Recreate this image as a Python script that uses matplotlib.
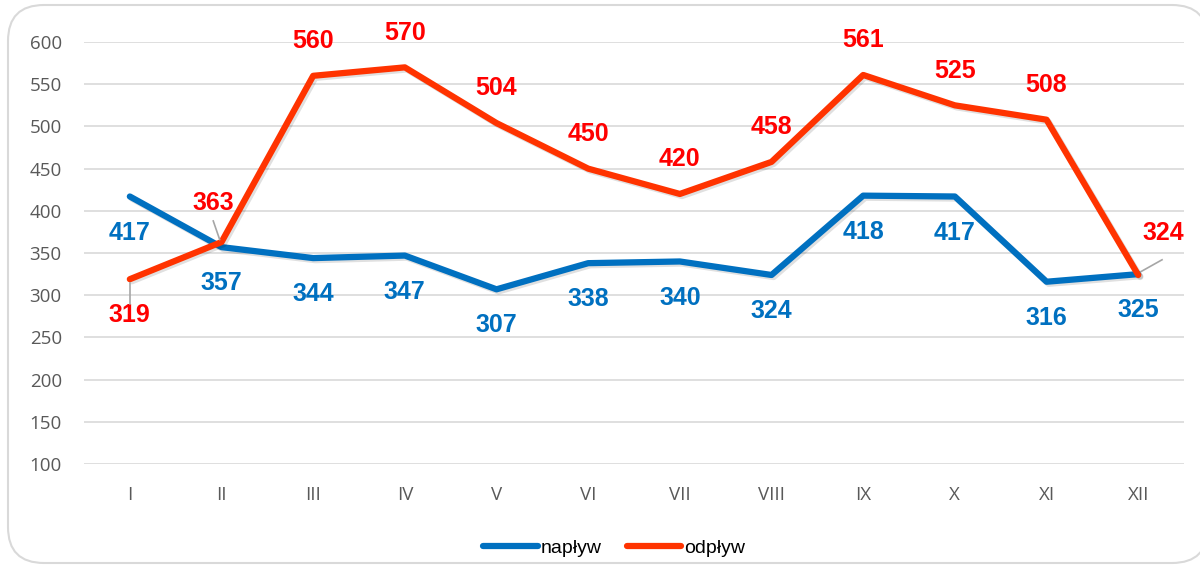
import matplotlib.pyplot as plt
import matplotlib.patheffects as pe
from matplotlib.patches import FancyBboxPatch

months = ["I", "II", "III", "IV", "V", "VI", "VII", "VIII", "IX", "X", "XI", "XII"]
naplyw = [417, 357, 344, 347, 307, 338, 340, 324, 418, 417, 316, 325]
odplyw = [319, 363, 560, 570, 504, 450, 420, 458, 561, 525, 508, 324]

blue = "#0070C0"
red = "#FF3300"
narrow = ["Liberation Sans", "DejaVu Sans"]

fig = plt.figure(figsize=(12, 5.76), dpi=100)
ax = fig.add_axes([0.07, 0.1944, 0.9167, 0.7326])

# rounded frame around the chart
frame = FancyBboxPatch((8 / 1200, 13 / 576), 1200 / 1200, 558 / 576,
                       boxstyle="round,pad=0,rounding_size=0.03",
                       transform=fig.transFigure, fc="white", ec="#d9d9d9",
                       lw=1.5, zorder=-10, mutation_aspect=1200 / 576)
fig.patches.append(frame)

x = list(range(len(months)))
shadow = [pe.SimpleLineShadow(offset=(1.5, -1.5), alpha=0.12), pe.Normal()]
ax.plot(x, naplyw, color=blue, lw=4.5, solid_capstyle="round",
        path_effects=shadow, label="napływ", zorder=3)
ax.plot(x, odplyw, color=red, lw=4.5, solid_capstyle="round",
        path_effects=shadow, label="odpływ", zorder=4)

ax.set_xlim(-0.5, len(months) - 0.5)
ax.set_ylim(100, 600)
ax.set_yticks(range(100, 601, 50))
ax.set_xticks(x)
ax.set_xticklabels(months)
ax.grid(axis="y", color="#d9d9d9", lw=1.2)
ax.set_axisbelow(True)
for s in ax.spines.values():
    s.set_visible(False)
ax.tick_params(length=0, labelsize=13.5, colors="#595959")
ax.tick_params(axis="y", pad=16)
ax.tick_params(axis="x", pad=16)
for t in ax.get_xticklabels() + ax.get_yticklabels():
    t.set_family("Open Sans")

# data labels
for i, v in enumerate(naplyw):
    ax.annotate(str(v), (i, v), xytext=(0, -26), textcoords="offset points",
                ha="center", va="center", color=blue, fontsize=18,
                fontweight="bold", family=narrow)

leaders = {0: (0, -26), 1: (-6, 28), 11: (18, 30)}
for i, v in enumerate(odplyw):
    off = leaders.get(i, (0, 25))
    ax.annotate(str(v), (i, v), xytext=off, textcoords="offset points",
                ha="center", va="center", color="#FF0000", fontsize=18,
                fontweight="bold", family=narrow)

ax.plot([0, 0], [314, 290], color="#a6a6a6", lw=1.2, zorder=5)
ax.plot([0.98, 0.91], [366, 388], color="#a6a6a6", lw=1.2, zorder=5)
ax.plot([11.03, 11.26], [328, 342], color="#a6a6a6", lw=1.2, zorder=5)

leg = ax.legend(loc="center", bbox_to_anchor=(0.482, -0.2), ncol=2,
                frameon=False, handlelength=2.8, handletextpad=0.15,
                columnspacing=1.3, prop={"family": narrow, "size": 14})
for h in leg.get_lines():
    h.set_linewidth(4.5)
    h.set_solid_capstyle("round")
    h.set_path_effects([])

fig.savefig("out.png", dpi=100)
